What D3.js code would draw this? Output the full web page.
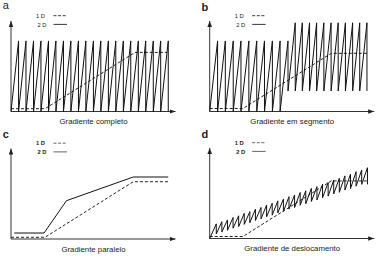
<!DOCTYPE html>
<html lang="pt">
<head>
  <meta charset="UTF-8"/>
  <title>Gradientes 1D e 2D</title>
  <script src="https://d3js.org/d3.v7.min.js"></script>
  <style>
    body { margin: 0; background: #fff; }
    text { font-family: "Liberation Sans", Arial, sans-serif; fill: #222; }
  </style>
</head>
<body>
<script>
  var w = 377;
  var h = 259;

  var letters = ["a", "b", "c", "d"];
  var titles = ["Gradiente completo", "Gradiente em segmento", "Gradiente paralelo", "Gradiente de deslocamento"];
  var legendLabels = ["1 D", "2 D"];

  // 1D gradient (dashed), axis units 0..100
  var dashA = [[0, 3.1], [20.7, 3.1], [75.4, 65.3], [94.8, 65.3]];
  var dashB = [[0, 3.3], [20.2, 3.3], [73.9, 64.3], [96.2, 64.3]];
  var dashC = [[0, 1.9], [20.7, 1.9], [74.3, 63.3], [95.6, 63.3]];
  var dashD = [[0, 2.2], [20.2, 2.2], [73.9, 63.6], [96.2, 63.6]];

  // 2D gradient (solid)
  // a: full gradient, tooth edges + [low, high]
  var sawAEdges = [0, 4.6, 9.1, 13.7, 18.2, 22.8, 27.3, 31.9, 36.4, 41.0, 45.5, 50.1, 54.6, 59.2, 63.7, 68.3, 72.8, 77.4, 81.9, 86.5, 91.0, 95.6];
  var sawALevels = [0, 78];
  // b: two segments
  var sawBEdges1 = [0, 4.8, 9.5, 14.3, 19.0, 23.8, 28.6, 33.3, 38.1, 42.8, 47.6];
  var sawBLevels1 = [0, 78];
  var sawBEdges2 = [47.6, 52.0, 56.3, 60.7, 65.0, 69.4, 73.8, 78.1, 82.5, 86.9, 91.2, 95.6];
  var sawBLevels2 = [22.7, 98];
  // c: parallel gradient
  var lineC = [[2.0, 6.6], [20.1, 6.6], [33.7, 42.3], [74.3, 68.5], [95.6, 68.5]];
  // d: shifted gradient, per tooth lows and highs
  var sawDEdges = [0, 4.0, 7.4, 10.8, 14.2, 17.6, 21.0, 24.4, 27.8, 31.2, 34.6, 38.0, 41.4, 44.8, 48.2, 51.6, 55.0, 58.4, 61.8, 65.2, 68.6, 72.0, 75.4, 78.8, 82.2, 85.6, 89.0, 92.4, 95.9];
  var sawDLows = [0, 5.0, 7.3, 9.0, 11.4, 13.2, 15.6, 17.5, 19.9, 21.6, 24.0, 25.8, 28.3, 30.0, 32.5, 34.2, 36.7, 38.4, 40.9, 42.6, 45.0, 46.8, 49.3, 51.0, 53.5, 55.2, 57.8, 59.8];
  var sawDHighs = [16.1, 18.6, 20.5, 23.2, 25.1, 27.8, 29.7, 32.4, 34.3, 37.0, 38.9, 41.6, 43.5, 46.2, 48.1, 50.8, 52.7, 55.4, 57.3, 60.0, 61.9, 64.6, 66.5, 69.2, 71.1, 73.8, 75.7, 78.2];

  // build sawtooth points: rise to high, then vertical drop to the next tooth's low
  function teeth(segments) {
    var list = [];
    segments.forEach(function(s) {
      for (var i = 0; i < s.edges.length - 1; i++) {
        list.push({
          x0: s.edges[i], x1: s.edges[i + 1],
          low: Array.isArray(s.low) ? s.low[i] : s.low,
          high: Array.isArray(s.high) ? s.high[i] : s.high
        });
      }
    });
    var pts = [[list[0].x0, list[0].low]];
    list.forEach(function(t, i) {
      pts.push([t.x1, t.high]);
      pts.push([t.x1, i < list.length - 1 ? list[i + 1].low : t.low]);
    });
    return pts;
  }

  var panels = [
    { dx: 0, dy: 0, dash: dashA, solid: teeth([{ edges: sawAEdges, low: sawALevels[0], high: sawALevels[1] }]) },
    { dx: 198.7, dy: 0, dash: dashB, solid: teeth([{ edges: sawBEdges1, low: sawBLevels1[0], high: sawBLevels1[1] },
                                                  { edges: sawBEdges2, low: sawBLevels2[0], high: sawBLevels2[1] }]) },
    { dx: 0, dy: 127.5, dash: dashC, solid: lineC },
    { dx: 198.7, dy: 127, dash: dashD, solid: teeth([{ edges: sawDEdges, low: sawDLows, high: sawDHighs }]) }
  ];

  var xScale = d3.scaleLinear().domain([0, 100]).range([11, 175.5]);
  var yScale = d3.scaleLinear().domain([0, 100]).range([111.5, 21]);

  var line = d3.line()
          .x(function(d) { return xScale(d[0]); })
          .y(function(d) { return yScale(d[1]); });

  var svg = d3.select("body")
          .append("svg")
          .attr("width", w)
          .attr("height", h);

  svg.append("defs").append("marker")
          .attr("id", "arrow")
          .attr("markerUnits", "userSpaceOnUse")
          .attr("markerWidth", 6)
          .attr("markerHeight", 4.6)
          .attr("refX", 6)
          .attr("refY", 2.3)
          .attr("orient", "auto")
          .append("path")
          .attr("d", "M0,0L6,2.3L0,4.6Z")
          .attr("fill", "#222");

  panels.forEach(function(p, i) {
    var g = svg.append("g").attr("transform", "translate(" + p.dx + "," + p.dy + ")");

    // axes with arrows
    g.append("line")
            .attr("x1", xScale(0)).attr("y1", yScale(0))
            .attr("x2", xScale(100)).attr("y2", yScale(0))
            .attr("stroke", "#333").attr("stroke-width", 1)
            .attr("marker-end", "url(#arrow)");
    g.append("line")
            .attr("x1", xScale(0)).attr("y1", yScale(0))
            .attr("x2", xScale(0)).attr("y2", yScale(100))
            .attr("stroke", "#333").attr("stroke-width", 1)
            .attr("marker-end", "url(#arrow)");

    g.append("path")
            .attr("d", line(p.dash))
            .attr("fill", "none")
            .attr("stroke", "#222")
            .attr("stroke-width", 1)
            .attr("stroke-dasharray", "3,2");

    g.append("path")
            .attr("d", line(p.solid))
            .attr("fill", "none")
            .attr("stroke", "#111")
            .attr("stroke-width", 1);

    // panel letter
    g.append("text")
            .attr("x", 2.7)
            .attr("y", i == 0 ? 9 : 10.5)
            .style("font-size", "11px")
            .style("font-weight", i == 0 ? "normal" : "bold")
            .text(letters[i]);

    // legend
    legendLabels.forEach(function(lab, j) {
      var ly = 15.7 + j * 8.7;
      g.append("text")
              .attr("x", 36 + j * 1.5)
              .attr("y", ly + 2.1)
              .style("font-size", "5.8px")
              .style("font-weight", i >= 2 ? "bold" : "normal")
              .text(lab);
      g.append("line")
              .attr("x1", 53.5).attr("x2", j == 0 ? 66 : 67)
              .attr("y1", ly).attr("y2", ly)
              .attr("stroke", i >= 2 ? "#555" : "#222")
              .attr("stroke-width", 0.9)
              .attr("stroke-dasharray", j == 0 ? "3,1.6" : null);
    });

    // caption
    g.append("text")
            .attr("x", 93.5)
            .attr("y", 124)
            .attr("text-anchor", "middle")
            .style("font-size", "7.8px")
            .style("fill", "#222")
            .text(titles[i]);
  });
</script>
</body>
</html>
